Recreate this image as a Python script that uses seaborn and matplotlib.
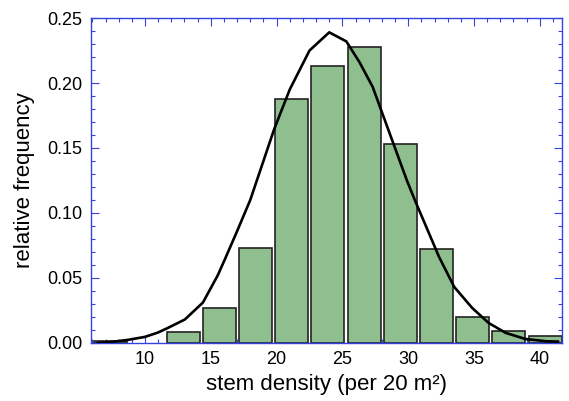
import numpy as np
import matplotlib
matplotlib.use("Agg")
import matplotlib.pyplot as plt
import seaborn as sns
from matplotlib.ticker import MultipleLocator, FormatStrFormatter

sns.set_style("white")
plt.rcParams['font.family'] = ['Liberation Sans', 'DejaVu Sans']
plt.rcParams['text.color'] = 'black'
plt.rcParams['axes.labelcolor'] = 'black'
plt.rcParams['xtick.labelcolor'] = 'black'
plt.rcParams['ytick.labelcolor'] = 'black'

# bin centres and relative frequencies (bin at ~10.1 is empty)
bin_centers = [7.4, 12.9, 15.65, 18.4, 21.15, 23.9, 26.65, 29.4, 32.15, 34.9, 37.65, 40.4]
rel_freq = [0.0018, 0.0087, 0.027, 0.073, 0.188, 0.213, 0.228, 0.153, 0.072, 0.020, 0.009, 0.005]

# smoothed fit curve
curve_x = [6.4, 7.5, 8.7, 10.0, 11.0, 11.74, 13.03, 14.4, 15.53, 16.1, 17.0, 18.0,
           19.0, 19.8, 20.3, 21.0, 22.5, 24.0, 25.3, 26.3, 27.3, 28.6, 29.9, 30.5,
           32.35, 33.5, 34.85, 36.1, 37.4, 38.9, 40.5, 41.4]
curve_y = [0.0, 0.0008, 0.0023, 0.0046, 0.008, 0.0115, 0.018, 0.031, 0.052, 0.065,
           0.086, 0.11, 0.14, 0.164, 0.177, 0.195, 0.225, 0.239, 0.232, 0.216,
           0.197, 0.161, 0.125, 0.11, 0.066, 0.043, 0.027, 0.0154, 0.0077, 0.003,
           0.0012, 0.001]

blue = '#3344dd'

fig = plt.figure(figsize=(5.69, 4.01), dpi=100)
ax = fig.add_axes([0.16, 0.145, 0.828, 0.81])

ax.bar(bin_centers, rel_freq, width=2.5, color='#8fbf8f',
       edgecolor='#222222', linewidth=1.2, zorder=2)
sns.lineplot(x=curve_x, y=curve_y, sort=False, color='black', lw=1.9, ax=ax, zorder=3)

ax.set_xlim(5.9, 41.7)
ax.set_ylim(0, 0.25)
ax.xaxis.set_major_locator(MultipleLocator(5))
ax.xaxis.set_minor_locator(MultipleLocator(1))
ax.yaxis.set_major_locator(MultipleLocator(0.05))
ax.yaxis.set_minor_locator(MultipleLocator(0.01))
ax.yaxis.set_major_formatter(FormatStrFormatter('%.2f'))

for s in ax.spines.values():
    s.set_color(blue)
    s.set_linewidth(1.0)
    s.set_visible(True)

ax.tick_params(which='both', direction='in', bottom=True, left=True, top=True, right=True,
               color=blue, width=0.8, labelsize=13, pad=6)
ax.tick_params(which='major', length=5.5)
ax.tick_params(which='minor', length=3)

ax.set_xlabel('stem density (per 20 m\u00b2)', fontsize=16, labelpad=4)
ax.set_ylabel('relative frequency', fontsize=16, labelpad=9)

fig.savefig('out.png', dpi=100)
